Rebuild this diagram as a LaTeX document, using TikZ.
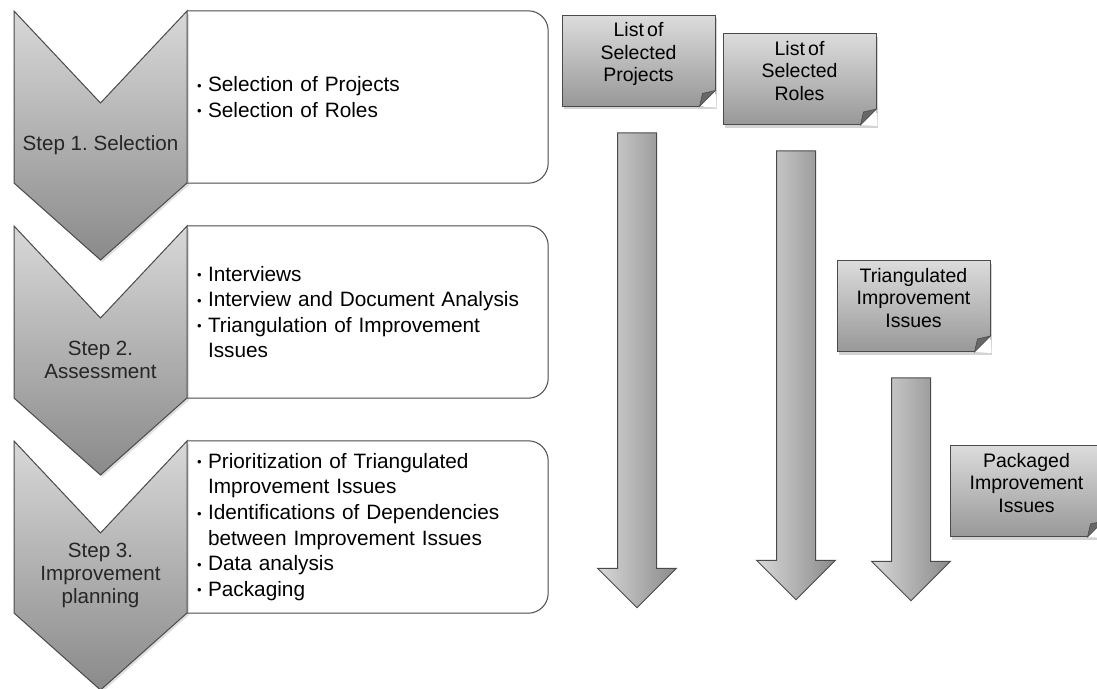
\documentclass[tikz,border=0pt]{standalone}
\usepackage{fontspec}
\setmainfont{Liberation Sans}
\usetikzlibrary{shapes.arrows,shadows}
\definecolor{InkDark}{RGB}{74,74,74}
\definecolor{SteelLight}{RGB}{216,216,216}
\definecolor{SteelDark}{RGB}{138,138,138}
\definecolor{NoteLight}{RGB}{220,220,220}
\definecolor{NoteDark}{RGB}{152,152,152}
\definecolor{FoldGray}{RGB}{104,104,104}
\newcommand{\itm}{\makebox[11pt][l]{\raisebox{1.5pt}{\fontsize{13}{13}\selectfont\textbullet}}}
\newcommand{\cont}{\hspace*{11pt}}
\tikzset{
  chevron/.style={draw=InkDark, line width=1pt, top color=SteelLight, bottom color=SteelDark,
    drop shadow={opacity=0.25, shadow xshift=2pt, shadow yshift=-2pt}},
  steplabel/.style={align=center, font=\fontsize{20.6}{23}\selectfont, text=black!85},
  itembox/.style={fill=white, minimum width=361pt, minimum height=172pt,
    text width=341pt, align=left, inner xsep=10pt, font=\fontsize{20.8}{25.6}\selectfont},
  itemline/.style={draw=InkDark, line width=1pt, rounded corners=20pt},
  notebox/.style={draw=InkDark, line width=1pt, top color=NoteLight, bottom color=NoteDark,
    minimum width=153pt, minimum height=91pt, inner sep=0pt, align=center, text depth=17pt,
    font=\fontsize{19.5}{22.5}\selectfont,
    drop shadow={opacity=0.35, shadow xshift=2pt, shadow yshift=-3pt}},
  bigarrow/.style={single arrow, draw=InkDark, line width=1pt, rotate=-90,
    left color=SteelLight, right color=SteelDark, minimum width=78pt,
    inner xsep=0pt, inner ysep=19pt,
    single arrow head extend=20pt, single arrow tip angle=90},
}

\begin{document}
\begin{tikzpicture}[x=1pt, y=-1pt]
  \useasboundingbox (0,0) rectangle (1097,688);

  % ---- step boxes ----
  \node[itembox] (box1) at (367.5,97) {\itm Selection of Projects\\ \itm Selection of Roles};
  \node[itembox] (box2) at (367.5,312) {\itm Interviews\\ \itm Interview and Document Analysis\\
    \itm Triangulation of Improvement\\ \cont Issues};
  \node[itembox] (box3) at (367.5,527) {\itm Prioritization of Triangulated\\ \cont Improvement Issues\\
    \itm Identifications of Dependencies\\ \cont between Improvement Issues\\
    \itm Data analysis\\ \itm Packaging};
  \draw[itemline] (box1.north west) -- (box1.north east) -- (box1.south east) -- (box1.south west);
  \draw[itemline] (box2.north west) -- (box2.north east) -- (box2.south east) -- (box2.south west);
  \draw[itemline] (box3.north west) -- (box3.north east) -- (box3.south east) -- (box3.south west);

  % ---- chevrons ----
  \path[chevron] (14,11) -- (100.5,103) -- (187,11) -- (187,183) -- (100.5,260) -- (14,183) -- cycle;
  \path[chevron] (14,226) -- (100.5,318) -- (187,226) -- (187,398) -- (100.5,475) -- (14,398) -- cycle;
  \path[chevron] (14,441) -- (100.5,533) -- (187,441) -- (187,613) -- (100.5,690) -- (14,613) -- cycle;
  \node[steplabel] (step1) at (100.5,145) {Step 1.\ Selection};
  \node[steplabel] (step2) at (100.5,360) {Step 2.\\Assessment};
  \node[steplabel] (step3) at (100.5,575) {Step 3.\\Improvement\\planning};

  % ---- flow arrows ----
  \node[bigarrow, minimum height=475pt] (arrA) at (637,360.5) {};
  \node[bigarrow, minimum height=449pt] (arrB) at (796,365.5) {};
  \node[bigarrow, minimum height=223pt] (arrC) at (911,479.5) {};

  % ---- outputs ----
  \node[notebox] (noteA) at (638.5,60.5) {List\,of\\Selected\\Projects};
  \node[notebox] (noteB) at (799.5,79) {List\,of\\Selected\\Roles};
  \node[notebox] (noteC) at (913.5,306) {Triangulated\\Improvement\\Issues};
  \node[notebox] (noteD) at (1026.5,491) {Packaged\\Improvement\\Issues};
  \foreach \n in {noteA,noteB,noteC,noteD} {
    \fill[white] ([xshift=-16pt]\n.south east) -- ([xshift=1pt,yshift=-1pt]\n.south east)
      -- ([yshift=16pt]\n.south east) -- cycle;
    \filldraw[fill=FoldGray, draw=InkDark, line width=0.6pt] ([xshift=-16pt]\n.south east)
      -- ([yshift=16pt]\n.south east) -- ([xshift=-13pt,yshift=13pt]\n.south east) -- cycle;
  }
\end{tikzpicture}
\end{document}
